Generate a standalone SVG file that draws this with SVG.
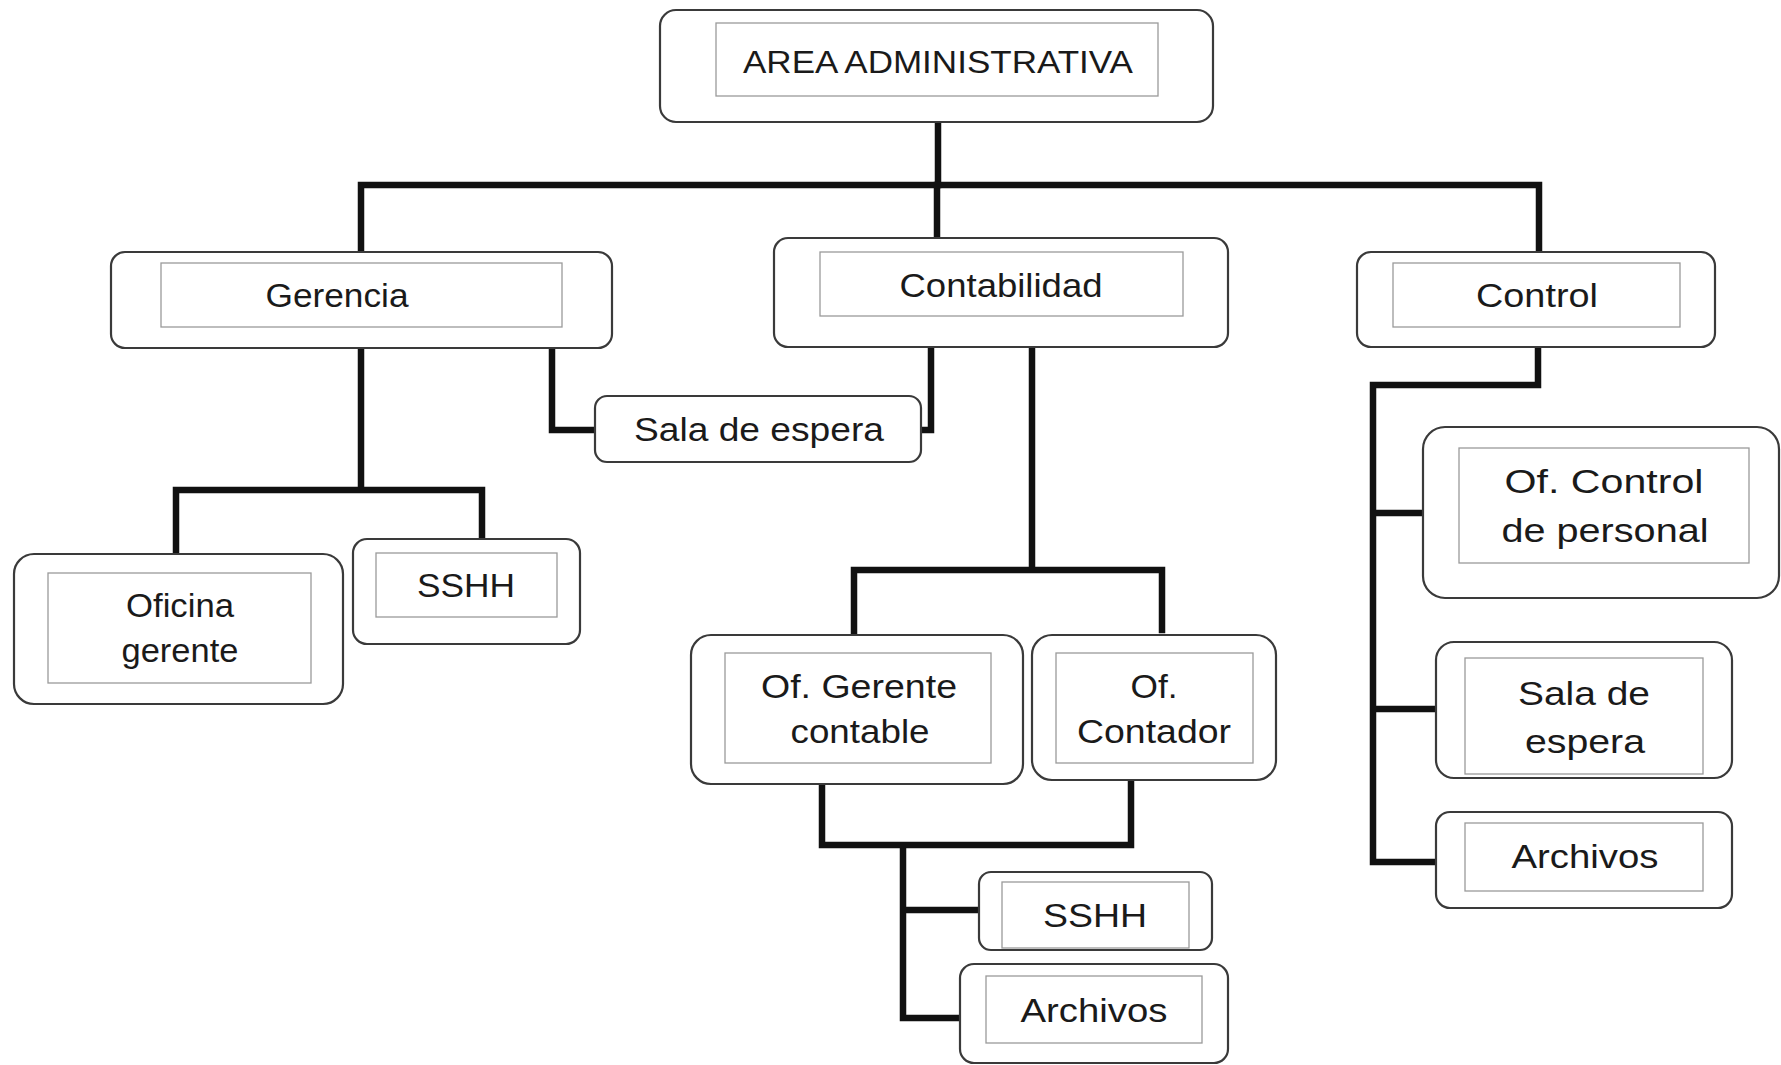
<svg xmlns="http://www.w3.org/2000/svg" width="1781" height="1065" viewBox="0 0 1781 1065">
<style>
.outer{fill:#fff;stroke:#3a3a3a;stroke-width:2.2}
.inner{fill:none;stroke:#9a9a9a;stroke-width:1.3}
.lbl{font-family:"Liberation Sans","Open Sans",sans-serif;font-size:33px;fill:#1a1a1a;text-anchor:middle}
.top{font-size:31px}
.con{fill:none;stroke:#111;stroke-width:6.5;stroke-linejoin:miter;stroke-linecap:square}
</style>
<rect width="1781" height="1065" fill="#fff"/>
<g id="connectors">
<path class="con" d="M938,122 V185 M937,185 V236"/>
<path class="con" d="M361,250 V185 H1539 V250"/>
<path class="con" d="M361,348 V490 M176,552 V490 H482 V537"/>
<path class="con" d="M552,348 V430 H594"/>
<path class="con" d="M931,347 V430 H922"/>
<path class="con" d="M1032,347 V570 M854,646 V570 H1162 V630"/>
<path class="con" d="M822,784 V845 H1131 V780 M903,845 V1018 H960 M903,910 H978"/>
<path class="con" d="M1538,347 V385 H1373 V862 H1435 M1373,513 H1422 M1373,709 H1435"/>
</g>
<g id="n-area">
<rect class="outer" x="660" y="10" width="553" height="112" rx="16"/>
<rect class="inner" x="716" y="23" width="442" height="73"/>
<text class="lbl top" x="938" y="73" textLength="390" lengthAdjust="spacingAndGlyphs">AREA ADMINISTRATIVA</text>
</g>
<g id="n-gerencia">
<rect class="outer" x="111" y="252" width="501" height="96" rx="14"/>
<rect class="inner" x="161" y="263" width="401" height="64"/>
<text class="lbl" x="337" y="307" textLength="143" lengthAdjust="spacingAndGlyphs">Gerencia</text>
</g>
<g id="n-contabilidad">
<rect class="outer" x="774" y="238" width="454" height="109" rx="14"/>
<rect class="inner" x="820" y="252" width="363" height="64"/>
<text class="lbl" x="1001" y="297" textLength="203" lengthAdjust="spacingAndGlyphs">Contabilidad</text>
</g>
<g id="n-control">
<rect class="outer" x="1357" y="252" width="358" height="95" rx="14"/>
<rect class="inner" x="1393" y="263" width="287" height="64"/>
<text class="lbl" x="1537" y="307" textLength="122" lengthAdjust="spacingAndGlyphs">Control</text>
</g>
<g id="n-sala-espera-1">
<rect class="outer" x="595" y="396" width="326" height="66" rx="12"/>
<text class="lbl" x="759" y="441" textLength="250" lengthAdjust="spacingAndGlyphs">Sala de espera</text>
</g>
<g id="n-oficina-gerente">
<rect class="outer" x="14" y="554" width="329" height="150" rx="20"/>
<rect class="inner" x="48" y="573" width="263" height="110"/>
<text class="lbl" x="180" y="617" textLength="108" lengthAdjust="spacingAndGlyphs">Oficina</text>
<text class="lbl" x="180" y="662" textLength="117" lengthAdjust="spacingAndGlyphs">gerente</text>
</g>
<g id="n-sshh-1">
<rect class="outer" x="353" y="539" width="227" height="105" rx="14"/>
<rect class="inner" x="376" y="553" width="181" height="64"/>
<text class="lbl" x="466" y="597" textLength="98" lengthAdjust="spacingAndGlyphs">SSHH</text>
</g>
<g id="n-of-gerente-contable">
<rect class="outer" x="691" y="635" width="332" height="149" rx="20"/>
<rect class="inner" x="725" y="653" width="266" height="110"/>
<text class="lbl" x="859" y="698" textLength="196" lengthAdjust="spacingAndGlyphs">Of. Gerente</text>
<text class="lbl" x="860" y="743" textLength="139" lengthAdjust="spacingAndGlyphs">contable</text>
</g>
<g id="n-of-contador">
<rect class="outer" x="1032" y="635" width="244" height="145" rx="20"/>
<rect class="inner" x="1056" y="653" width="197" height="110"/>
<text class="lbl" x="1154" y="698" textLength="47" lengthAdjust="spacingAndGlyphs">Of.</text>
<text class="lbl" x="1154" y="743" textLength="154" lengthAdjust="spacingAndGlyphs">Contador</text>
</g>
<g id="n-sshh-2">
<rect class="outer" x="979" y="872" width="233" height="78" rx="12"/>
<rect class="inner" x="1002" y="882" width="187" height="66"/>
<text class="lbl" x="1095" y="927" textLength="104" lengthAdjust="spacingAndGlyphs">SSHH</text>
</g>
<g id="n-archivos-1">
<rect class="outer" x="960" y="964" width="268" height="99" rx="14"/>
<rect class="inner" x="986" y="976" width="216" height="67"/>
<text class="lbl" x="1094" y="1022" textLength="147" lengthAdjust="spacingAndGlyphs">Archivos</text>
</g>
<g id="n-of-control-personal">
<rect class="outer" x="1423" y="427" width="356" height="171" rx="22"/>
<rect class="inner" x="1459" y="448" width="290" height="115"/>
<text class="lbl" x="1604" y="493" textLength="199" lengthAdjust="spacingAndGlyphs">Of. Control</text>
<text class="lbl" x="1605" y="542" textLength="207" lengthAdjust="spacingAndGlyphs">de personal</text>
</g>
<g id="n-sala-espera-2">
<rect class="outer" x="1436" y="642" width="296" height="136" rx="18"/>
<rect class="inner" x="1465" y="658" width="238" height="116"/>
<text class="lbl" x="1584" y="705" textLength="132" lengthAdjust="spacingAndGlyphs">Sala de</text>
<text class="lbl" x="1585" y="753" textLength="120" lengthAdjust="spacingAndGlyphs">espera</text>
</g>
<g id="n-archivos-2">
<rect class="outer" x="1436" y="812" width="296" height="96" rx="14"/>
<rect class="inner" x="1465" y="823" width="238" height="68"/>
<text class="lbl" x="1585" y="868" textLength="147" lengthAdjust="spacingAndGlyphs">Archivos</text>
</g>
</svg>
